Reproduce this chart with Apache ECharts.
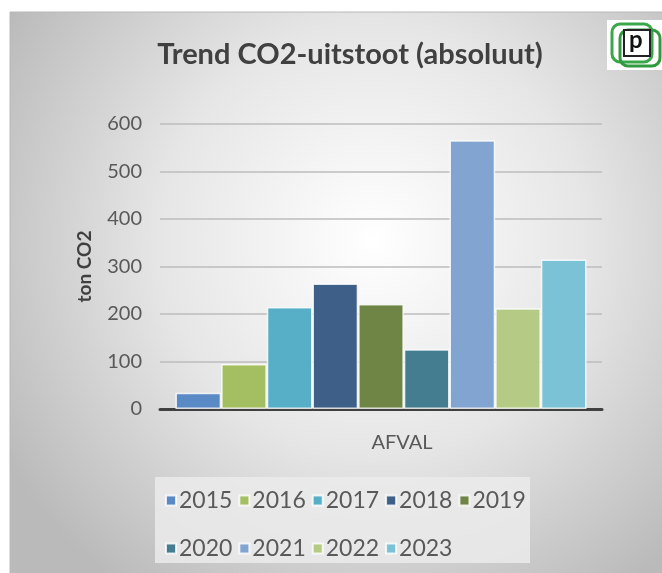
<!DOCTYPE html>
<html><head><meta charset="utf-8">
<script src="https://cdn.jsdelivr.net/npm/echarts@6/dist/echarts.min.js"></script>
<style>html,body{margin:0;padding:0;background:#fff;}#c{width:662px;height:573px;}</style>
</head><body><div id="c"></div>
<script>
const categories = ['AFVAL'];
const years = ['2015','2016','2017','2018','2019','2020','2021','2022','2023'];
const values = [34, 95, 215, 264, 221, 126, 566, 212, 315];
const colors = ['#5a8ac6','#a3bf62','#56afc7','#3e5f87','#6e8545','#437d8f','#82a4d0','#b5cb85','#7cc2d6'];
const yTicks = [0,100,200,300,400,500,600];

const chart = echarts.init(document.getElementById('c'));
const series = years.map((y,i)=>({
  name: y, type: 'bar', data: [values[i]],
  barGap: '0%', barCategoryGap: '7%',
  itemStyle: {color: colors[i], borderColor: 'rgba(255,255,255,0.8)', borderWidth: 1.5},
  emphasis: {disabled: true}
}));
const legendCommon = {
  orient: 'horizontal', itemWidth: 10, itemHeight: 10, itemGap: 6,
  icon: 'rect',
  textStyle: {fontFamily: 'Lato', fontSize: 23, color: '#595959', padding: [0,0,0,-2]}
};
chart.setOption({
  animation: false,
  color: colors,
  title: {
    text: 'Trend CO2-uitstoot (absoluut)', left: 345, top: 35, textAlign: 'center',
    textStyle: {fontFamily: 'Lato', fontSize: 29, fontWeight: 'bold', color: '#404040'}
  },
  graphic: [
    {type: 'rect', z: -10, shape: {x: 10, y: 12, width: 660, height: 570},
     style: {fill: new echarts.graphic.RadialGradient(0.55, 0.4, 0.75, [
       {offset: 0, color: '#ffffff'}, {offset: 0.5, color: '#e6e6e6'}, {offset: 1, color: '#bababa'}]),
       stroke: '#b8b8b8', lineWidth: 1}},
    {type: 'rect', z: -5, shape: {x: 155, y: 477, width: 375, height: 86},
     style: {fill: 'rgba(235,235,235,0.85)'}},
    {type: 'rect', z: 5, shape: {x: 607, y: 20, width: 55, height: 50}, style: {fill: '#ffffff'}},
    {type: 'rect', z: 6, shape: {x: 612, y: 24, width: 40, height: 38, r: 8}, style: {fill: 'none', stroke: '#3aa84a', lineWidth: 3}},
    {type: 'rect', z: 6, shape: {x: 620, y: 30, width: 40, height: 36, r: 8}, style: {fill: 'none', stroke: '#2f9a3e', lineWidth: 3}},
    {type: 'rect', z: 7, shape: {x: 624, y: 30, width: 26, height: 26}, style: {fill: '#ffffff', stroke: '#222', lineWidth: 2}},
    {type: 'text', z: 8, x: 629, y: 28, style: {text: 'p', font: 'bold 24px Lato', fill: '#111'}}
  ],
  legend: [
    Object.assign({data: years.slice(0,5), left: 160, top: 484}, legendCommon),
    Object.assign({data: years.slice(5), left: 160, top: 532}, legendCommon)
  ],
  grid: {left: 160, right: 60, top: 124, bottom: 164},
  xAxis: {
    type: 'category', data: categories,
    axisLine: {lineStyle: {color: '#404040', width: 3}},
    axisTick: {show: false},
    axisLabel: {fontFamily: 'Lato', fontSize: 20, color: '#595959', margin: 24, padding: [0,0,0,42]}
  },
  yAxis: {
    type: 'value', min: 0, max: 600, interval: 100,
    name: 'ton CO2', nameLocation: 'middle', nameGap: 66, nameRotate: 90,
    nameTextStyle: {fontFamily: 'Lato', fontSize: 19, fontWeight: 'bold', color: '#404040'},
    axisLine: {show: false}, axisTick: {show: false},
    axisLabel: {fontFamily: 'Lato', fontSize: 20, color: '#595959', margin: 18,
      formatter: v => yTicks.includes(v) ? String(v) : ''},
    splitLine: {lineStyle: {color: '#bcbcbc', width: 1.5}}
  },
  series: series
});
</script></body></html>
